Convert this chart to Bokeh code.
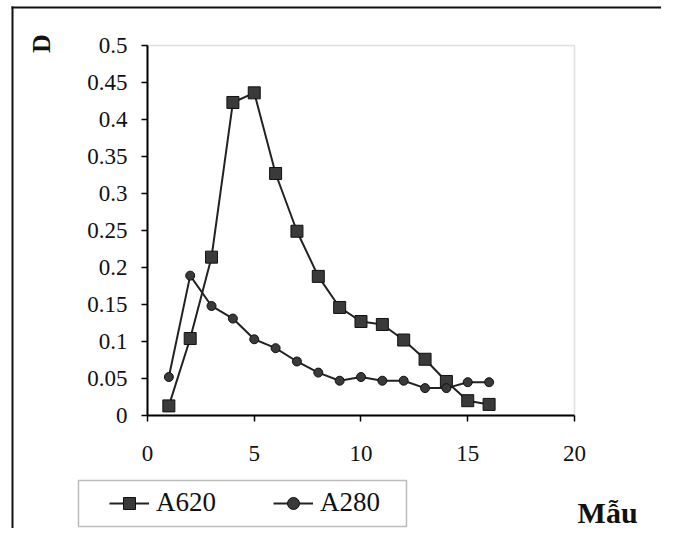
from bokeh.plotting import figure
from bokeh.models import (FixedTicker, Legend, LegendItem, Label, BoxAnnotation, Range1d)
from bokeh.embed import file_html
from bokeh.resources import INLINE
import math

samples = list(range(1, 17))
a620 = [0.013, 0.104, 0.214, 0.423, 0.436, 0.327, 0.249, 0.188, 0.146, 0.127,
        0.123, 0.102, 0.076, 0.046, 0.020, 0.015]
a280 = [0.052, 0.189, 0.148, 0.131, 0.103, 0.091, 0.073, 0.058, 0.047, 0.052,
        0.047, 0.047, 0.037, 0.037, 0.045, 0.045]
x_ticks = [0, 5, 10, 15, 20]
y_ticks = [0, 0.05, 0.1, 0.15, 0.2, 0.25, 0.3, 0.35, 0.4, 0.45, 0.5]
y_tick_labels = ["0", "0.05", "0.1", "0.15", "0.2", "0.25", "0.3", "0.35", "0.4", "0.45", "0.5"]
series_names = ["A620", "A280"]
x_title = "Mẫu"
y_title = "D"

FONT = "Liberation Serif"
W, H = 661, 528

# The frame fills the whole canvas; the axes sit at x=0 / y=0 via fixed_location.
p = figure(width=W, height=H, output_backend="svg", toolbar_location=None,
           x_range=Range1d(-6.885, 24.075), y_range=Range1d(-0.1527, 0.5608),
           min_border=0)
p.background_fill_color = "white"
p.border_fill_color = "white"
p.grid.visible = False
p.outline_line_color = None

for ax in (p.xaxis[0], p.yaxis[0]):
    ax.fixed_location = 0
    ax.axis_line_color = "black"
    ax.axis_line_width = 2
    ax.major_tick_line_color = "black"
    ax.major_tick_line_width = 1.5
    ax.major_tick_in = 0
    ax.major_tick_out = 6
    ax.minor_tick_line_color = None
    ax.major_label_text_font = FONT
    ax.major_label_text_font_size = "23px"
    ax.major_label_text_color = "#111111"

p.xaxis.ticker = FixedTicker(ticks=x_ticks)
p.xaxis.bounds = (x_ticks[0], x_ticks[-1])
p.xaxis.major_label_standoff = 25
p.yaxis.ticker = FixedTicker(ticks=y_ticks)
p.yaxis.bounds = (y_ticks[0], y_ticks[-1])
p.yaxis.major_label_overrides = {t: l for t, l in zip(y_ticks, y_tick_labels)}
p.yaxis.major_label_standoff = 14

# dotted plot-area border (top and right)
p.add_layout(BoxAnnotation(left=x_ticks[0], right=x_ticks[-1], bottom=y_ticks[0], top=y_ticks[-1],
                           fill_alpha=0, line_color="#333333", line_dash="1 1", line_width=1.6,
                           level="underlay"))

l1 = p.line(samples, a620, line_color="#222222", line_width=2)
s1 = p.scatter(samples, a620, marker="square", size=12, fill_color="#3a3a3a",
               line_color="#111111", line_width=1)
l2 = p.line(samples, a280, line_color="#222222", line_width=2)
s2 = p.scatter(samples, a280, marker="circle", size=9, fill_color="#3a3a3a",
               line_color="#111111", line_width=1)

legend = Legend(items=[LegendItem(label=series_names[0], renderers=[l1, s1]),
                       LegendItem(label=series_names[1], renderers=[l2, s2])],
                orientation="horizontal", location=(109, 10),
                border_line_alpha=0, background_fill_alpha=0,
                label_text_font=FONT, label_text_font_size="27px",
                label_text_color="#111111",
                glyph_width=40, glyph_height=30, label_height=30,
                label_standoff=7, spacing=57, padding=0, margin=0)
p.add_layout(legend, "center")

# legend frame
p.add_layout(BoxAnnotation(left=78, right=406, top=480, bottom=526,
                           left_units="canvas", right_units="canvas",
                           top_units="canvas", bottom_units="canvas",
                           fill_alpha=0, line_color="#222222", line_width=1.5))

# outer chart frame (left and top edges; the others lie off the picture)
for (l, r, t, b) in [(11, 13, 6, 528), (11, 661, 6, 8)]:
    p.add_layout(BoxAnnotation(left=l, right=r, top=t, bottom=b,
                               left_units="canvas", right_units="canvas",
                               top_units="canvas", bottom_units="canvas",
                               fill_color="#111111", fill_alpha=1, line_color=None))

p.add_layout(Label(x=21.55, y=-0.131, text=x_title, text_font=FONT,
                   text_font_size="30px", text_font_style="bold",
                   text_align="center", text_baseline="alphabetic",
                   text_color="#111111"))
p.add_layout(Label(x=-4.965, y=0.5027, text=y_title, text_font=FONT,
                   text_font_size="26px", text_font_style="bold",
                   text_align="center", text_baseline="middle", angle=math.pi / 2,
                   text_color="#111111"))

open("out.html", "w").write(file_html(p, INLINE))
